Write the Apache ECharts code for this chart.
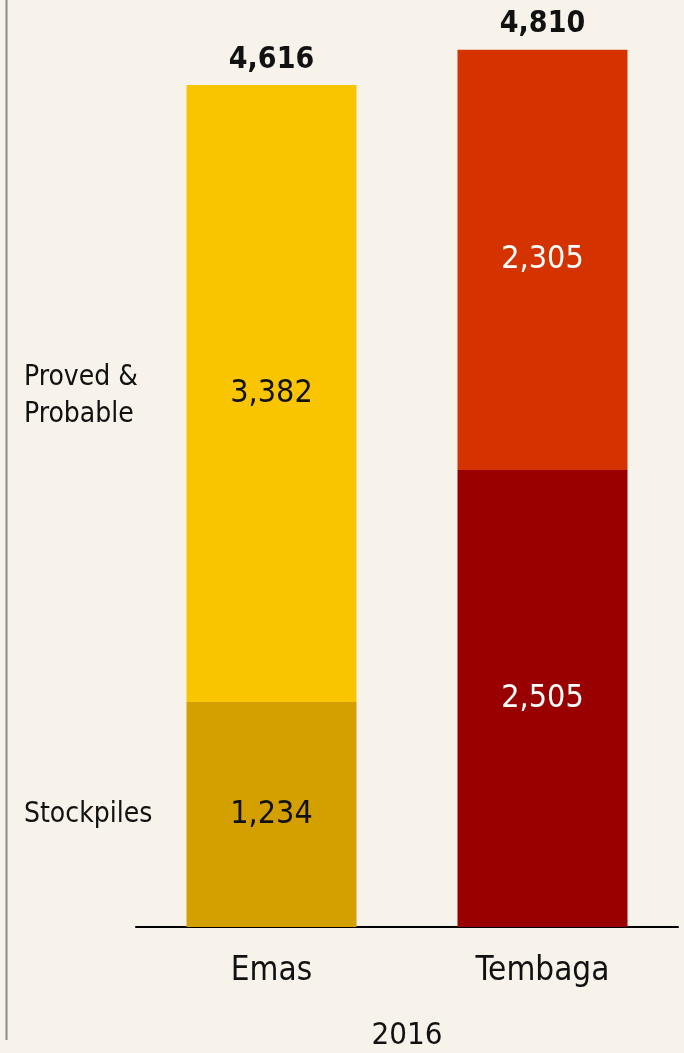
<!DOCTYPE html>
<html>
<head>
<meta charset="utf-8">
<script src="https://cdn.jsdelivr.net/npm/echarts@6/dist/echarts.min.js"></script>
<style>
  html, body { margin: 0; padding: 0; background: #f7f3eb; }
  #chart { width: 684px; height: 1053px; }
</style>
</head>
<body>
<div id="chart"></div>
<script>
// reserves, 2016
const categories = ['Emas', 'Tembaga']
const stockpiles = [1234, 2505]
const provedProbable = [3382, 2305]
const totals = [4616, 4810]

const stockColors = ['#d4a000', '#990000']
const provedColors = ['#f9c400', '#d43300']
const innerLabelColors = ['#111', '#fff']

const FONT = '"Liberation Sans Narrow", "DejaVu Sans Condensed", sans-serif'

const chart = echarts.init(document.getElementById('chart'))

const segLabel = {
  show: true,
  position: 'inside',
  fontFamily: FONT,
  fontSize: 32,
  formatter: (p) => p.value.toLocaleString('en-US'),
  color: '#111'
}

chart.setOption({
  backgroundColor: '#f7f3eb',
  animation: false,
  grid: { left: 136, right: 6, top: 15, bottom: 126, containLabel: false, outerBoundsMode: 'none' },
  xAxis: {
    type: 'category',
    data: categories,
    name: '2016',
    nameLocation: 'middle',
    nameGap: 93,
    nameTextStyle: { fontFamily: FONT, fontSize: 31, color: '#111' },
    axisLine: { lineStyle: { color: '#000', width: 2 } },
    axisTick: { show: false },
    axisLabel: { fontFamily: FONT, fontSize: 33, color: '#111', margin: 28 }
  },
  yAxis: {
    type: 'value',
    min: 0,
    max: 5000,
    show: false,
    splitLine: { show: false }
  },
  series: [
    {
      name: 'Stockpiles',
      type: 'bar',
      stack: 'total',
      barWidth: 170,
      data: stockpiles.map((v, i) => ({
        value: v,
        itemStyle: { color: stockColors[i] },
        label: { color: innerLabelColors[i] }
      })),
      label: segLabel
    },
    {
      name: 'Proved & Probable',
      type: 'bar',
      stack: 'total',
      barWidth: 170,
      data: provedProbable.map((v, i) => ({
        value: v,
        itemStyle: { color: provedColors[i] },
        label: { color: innerLabelColors[i] }
      })),
      label: segLabel
    },
    {
      name: 'Total',
      type: 'bar',
      stack: 'total',
      barWidth: 170,
      data: totals.map(() => 0),
      itemStyle: { color: 'transparent' },
      label: {
        show: true,
        position: 'top',
        distance: 10,
        fontFamily: FONT,
        fontWeight: 'bold',
        fontSize: 30,
        color: '#111',
        formatter: (p) => totals[p.dataIndex].toLocaleString('en-US')
      }
    }
  ],
  graphic: [
    {
      type: 'line',
      shape: { x1: 6.5, y1: 0, x2: 6.5, y2: 1040 },
      style: { stroke: '#8a8a8a', lineWidth: 2 }
    },
    {
      type: 'text',
      left: 24,
      top: 359,
      style: {
        text: 'Proved &\nProbable',
        font: '28px ' + FONT,
        lineHeight: 37,
        fill: '#111'
      }
    },
    {
      type: 'text',
      left: 24,
      top: 801,
      style: {
        text: 'Stockpiles',
        font: '28px ' + FONT,
        fill: '#111'
      }
    }
  ]
})
</script>
</body>
</html>
